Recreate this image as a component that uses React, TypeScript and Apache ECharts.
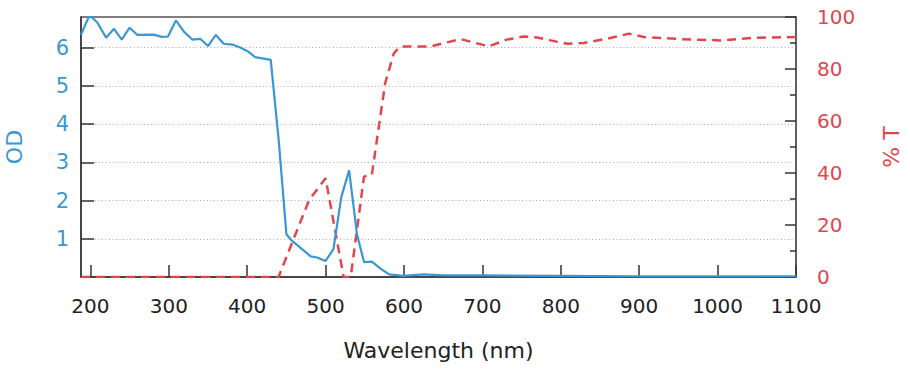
import React, { useEffect, useRef } from "react";
import * as echarts from "echarts";

const xTickValues = [200, 300, 400, 500, 600, 700, 800, 900, 1000, 1100];
const odTickValues = [1, 2, 3, 4, 5, 6];

const odX = [188, 199, 209, 220, 230, 240, 250, 260, 281, 291, 299, 309, 320, 330, 340, 350, 360, 370, 381, 391, 401, 410, 430, 440, 450, 457, 481, 489, 500, 510, 520, 530, 540, 549, 559, 570, 581, 599, 625, 650, 700, 800, 900, 1000, 1100];
const odY = [6.34, 6.85, 6.65, 6.26, 6.49, 6.21, 6.52, 6.33, 6.34, 6.28, 6.29, 6.71, 6.4, 6.21, 6.23, 6.04, 6.33, 6.1, 6.08, 6.0, 5.9, 5.75, 5.68, 3.62, 1.12, 0.95, 0.54, 0.51, 0.42, 0.73, 2.09, 2.79, 1.12, 0.39, 0.4, 0.22, 0.07, 0.03, 0.07, 0.04, 0.04, 0.03, 0.02, 0.02, 0.02];

const tX = [188, 430, 440, 457, 479, 500, 523, 532, 549, 559, 576, 587, 595, 621, 634, 672, 689, 708, 731, 753, 770, 787, 808, 829, 863, 887, 906, 953, 1004, 1046, 1100];
const tY = [0, 0, 0, 13, 29.6, 38, 0, 0, 38.6, 39.3, 74.6, 86, 88.7, 88.7, 88.7, 91.5, 90.2, 88.7, 91.3, 92.5, 92.1, 91, 89.7, 90, 91.9, 93.6, 92.3, 91.5, 91, 92, 92.3];

const BLUE = "#3b97d3";
const RED = "#e0474c";
const FONT = "DejaVu Sans";

export default function App() {
  const ref = useRef<HTMLDivElement>(null);
  useEffect(() => {
    document.body.style.margin = "0";
    const chart = echarts.init(ref.current!, null, { renderer: "svg" });
    chart.setOption({
      animation: false,
      grid: {
        left: 81,
        right: 114,
        top: 17,
        bottom: 101,
        containLabel: false,
        outerBoundsMode: "none",
        show: true,
        borderColor: "#555",
        borderWidth: 1.5,
        backgroundColor: "transparent",
      },
      xAxis: {
        type: "value",
        min: 188,
        max: 1100,
        name: "Wavelength (nm)",
        nameLocation: "middle",
        nameGap: 62,
        nameTextStyle: { fontFamily: FONT, fontSize: 22, color: "#222" },
        axisLine: { show: true, lineStyle: { color: "#333", width: 1.5 } },
        axisTick: { show: true, inside: true, length: 12, customValues: xTickValues, lineStyle: { color: "#333", width: 1.5 } },
        axisLabel: { customValues: xTickValues, formatter: (v: number) => String(v), margin: 19, fontFamily: FONT, fontSize: 20, color: "#222" },
        splitLine: { show: false },
      },
      yAxis: [
        {
          type: "value",
          min: 0,
          max: 6.8,
          position: "left",
          name: "OD",
          nameLocation: "middle",
          nameRotate: 90,
          nameGap: 56,
          nameTextStyle: { fontFamily: FONT, fontSize: 22, color: BLUE },
          axisLine: { show: true, lineStyle: { color: "#333", width: 1.5 } },
          axisTick: { show: true, inside: true, length: 13, customValues: odTickValues, lineStyle: { color: "#333", width: 1.5 } },
          axisLabel: { customValues: odTickValues, formatter: (v: number) => String(v), margin: 12, fontFamily: FONT, fontSize: 21, color: BLUE },
          splitLine: { show: true, lineStyle: { color: "#aaa", width: 1, type: [1, 2.5] } },
        },
        {
          type: "value",
          min: 0,
          max: 100,
          interval: 20,
          position: "right",
          name: "% T",
          nameLocation: "middle",
          nameRotate: 90,
          nameGap: 84,
          nameTextStyle: { fontFamily: FONT, fontSize: 22, color: RED },
          axisLine: { show: true, lineStyle: { color: "#555", width: 1.5 } },
          axisTick: { show: true, inside: true, length: 11, lineStyle: { color: "#333", width: 1.5 } },
          minorTick: { show: true, splitNumber: 2, length: 6, lineStyle: { color: "#333", width: 1.5 } },
          axisLabel: { margin: 21, fontFamily: FONT, fontSize: 20, color: RED },
          splitLine: { show: false },
        },
      ],
      series: [
        {
          type: "line",
          name: "OD",
          yAxisIndex: 0,
          data: odX.map((x, i) => [x, odY[i]]),
          showSymbol: false,
          lineStyle: { color: BLUE, width: 2.2 },
          itemStyle: { color: BLUE },
          z: 3,
        },
        {
          type: "line",
          name: "% T",
          yAxisIndex: 1,
          data: tX.map((x, i) => [x, tY[i]]),
          showSymbol: false,
          lineStyle: { color: RED, width: 2.5, type: [9, 6] },
          itemStyle: { color: RED },
          z: 2,
        },
      ],
    });
    return () => chart.dispose();
  }, []);
  return <div ref={ref} style={{ width: 910, height: 378 }} />;
}
